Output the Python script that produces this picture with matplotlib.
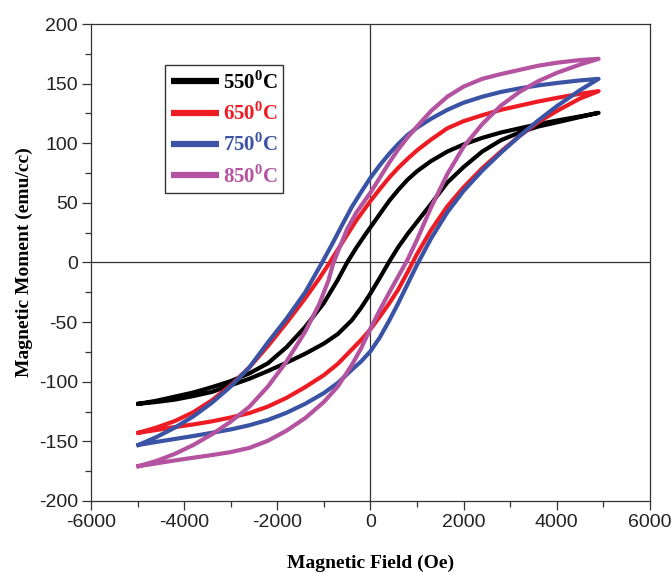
import matplotlib
matplotlib.use("Agg")
import matplotlib.pyplot as plt
from matplotlib.ticker import MultipleLocator

plt.rcParams['font.family'] = ['Liberation Sans', 'DejaVu Sans']
plt.rcParams['axes.unicode_minus'] = False
plt.rcParams['mathtext.fontset'] = 'custom'
plt.rcParams['mathtext.rm'] = 'Liberation Serif:bold'
plt.rcParams['mathtext.bf'] = 'Liberation Serif:bold'

# valores (campo en Oe, momento en emu/cc)
# _sube: rama con campo creciente, _baja: rama con campo decreciente
h_550_sube = [-4980, -4600, -4200, -3800, -3400, -3000, -2600, -2200, -1800, -1400, -1000, -700, -400, -200, 0,
              200, 400, 600, 800, 1000, 1300, 1650, 2000, 2400, 2800, 3200, 3600, 4000, 4500, 4900]
m_550_sube = [-118.5, -117, -115, -112, -108.5, -103, -97.5, -91, -84, -76.5, -68, -60, -48.5, -38, -26,
              -13, 0.5, 13, 24, 34, 49, 67, 80, 93, 102.5, 109, 114, 117.5, 122, 125.5]
h_550_baja = [-4980, -4600, -4200, -3800, -3400, -3000, -2600, -2200, -1800, -1400, -1000, -700, -500, -300, -100, 0,
              200, 400, 600, 800, 1000, 1300, 1650, 2000, 2400, 2800, 3200, 3600, 4000, 4500, 4900]
m_550_baja = [-118.5, -116, -112.5, -109, -104.5, -99.5, -93, -84.5, -71, -54, -34, -14.5, 0, 12.5, 24, 29.5,
              40.5, 51.5, 61, 69.5, 76.5, 85, 93, 99, 104.5, 109, 112.5, 116, 119, 122.5, 125.5]

h_650_sube = [-4980, -4600, -4200, -3800, -3400, -3000, -2600, -2200, -1800, -1400, -1000, -700, -400, -200, 0,
              200, 400, 600, 800, 1000, 1300, 1650, 2000, 2400, 2800, 3200, 3600, 4000, 4500, 4900]
m_650_sube = [-142.8, -140.5, -138, -135.8, -133.2, -130, -126.3, -120.8, -113.5, -104.5, -94.5, -85, -73, -65, -56,
              -45.5, -34.5, -22.5, -8, 7, 27, 47, 63, 79, 93, 106, 117.5, 127, 137.5, 143.7]
h_650_baja = [-4980, -4600, -4200, -3800, -3400, -3000, -2600, -2200, -1800, -1400, -1100, -873, -600, -300, 0,
              200, 400, 600, 800, 1000, 1300, 1650, 2000, 2400, 2800, 3200, 3600, 4000, 4500, 4900]
m_650_baja = [-142.8, -138.5, -133, -125.5, -115.5, -103, -88, -70, -50.5, -30, -13.5, 0, 17, 35.5, 51.5,
              61.5, 71, 79.5, 87, 94, 103, 112.5, 118.5, 123.5, 128, 131.5, 135, 138, 141.5, 143.7]

h_750_sube = [-4980, -4600, -4200, -3800, -3400, -3000, -2600, -2200, -1800, -1400, -1000, -700, -400, -200, 0,
              200, 400, 600, 800, 1000, 1300, 1650, 2000, 2400, 2800, 3200, 3600, 4000, 4500, 4900]
m_750_sube = [-153, -150.5, -148, -145.5, -142.8, -140, -136.5, -132, -126, -118.5, -109.5, -101, -90, -83, -74.5,
              -63, -49, -34, -18, -2, 20, 42, 60, 77, 92, 106, 119, 131, 144.5, 154]
h_750_baja = [-4980, -4600, -4200, -3800, -3400, -3000, -2600, -2200, -1800, -1400, -1037, -800, -600, -400, -200, 0,
              200, 400, 600, 800, 1000, 1300, 1650, 2000, 2400, 2800, 3200, 3600, 4000, 4500, 4900]
m_750_baja = [-153, -146.5, -138.5, -129, -117.5, -104, -88, -67, -47, -25, 0, 17, 32, 46.5, 59, 71,
              81.5, 91, 99.5, 107, 113, 120.5, 128, 134, 139, 143, 146, 148.5, 150.5, 152.7, 154]

h_850_sube = [-4980, -4600, -4200, -3800, -3400, -3000, -2600, -2200, -1800, -1400, -1000, -700, -400, -200, 0,
              200, 400, 600, 800, 1000, 1300, 1650, 2000, 2400, 2800, 3200, 3600, 4000, 4500, 4900]
m_850_sube = [-170.8, -168.5, -166, -163.7, -161.5, -159, -155.5, -149.5, -141, -130.5, -117, -104, -86, -72, -55.5,
              -40, -25.5, -11.5, 2.5, 19, 46, 74, 97, 116, 131.5, 143, 152, 159, 166, 170.8]
h_850_baja = [-4980, -4600, -4200, -3800, -3400, -3000, -2600, -2200, -1800, -1400, -1100, -900, -800, -700, -500, -300, -100, 0,
              200, 400, 600, 800, 1000, 1300, 1650, 2000, 2400, 2800, 3200, 3600, 4000, 4500, 4900]
m_850_baja = [-170.8, -166.5, -160.5, -153, -144, -133.5, -121, -104, -83, -58, -35, -15, -1, 9, 28, 42, 53, 58.5,
              71, 83.5, 95, 105, 114, 127, 139, 147.5, 154, 158, 161.5, 165, 167.5, 169.8, 170.8]

etiquetas = ['550$^{\\mathbf{0}}$C', '650$^{\\mathbf{0}}$C', '750$^{\\mathbf{0}}$C', '850$^{\\mathbf{0}}$C']
colores = ['#000000', '#ed1c24', '#3a53a4', '#b4539f']

bucles = [
    (h_550_sube, m_550_sube, h_550_baja, m_550_baja),
    (h_650_sube, m_650_sube, h_650_baja, m_650_baja),
    (h_750_sube, m_750_sube, h_750_baja, m_750_baja),
    (h_850_sube, m_850_sube, h_850_baja, m_850_baja),
]

fig = plt.figure(figsize=(6.72, 5.73), dpi=100)
ax = fig.add_axes([0.1354, 0.1257, 0.8316, 0.8324])

ax.axhline(0, color='#333333', lw=0.9, zorder=1)
ax.axvline(0, color='#333333', lw=0.9, zorder=1)

for (hs, ms, hb, mb), lab, col in zip(bucles, etiquetas, colores):
    # lazo cerrado: rama que sube y luego la que baja
    xs = list(hs) + list(reversed(hb))
    ys = list(ms) + list(reversed(mb))
    ax.plot(xs, ys, color=col, lw=3, label=lab, solid_joinstyle='round', zorder=2)

ax.set_xlim(-6000, 6000)
ax.set_ylim(-200, 200)
ax.xaxis.set_major_locator(MultipleLocator(2000))
ax.xaxis.set_minor_locator(MultipleLocator(1000))
ax.yaxis.set_major_locator(MultipleLocator(50))
ax.yaxis.set_minor_locator(MultipleLocator(25))
ax.tick_params(which='major', direction='out', length=6.5, width=0.9, color='#333333',
               labelsize=14, labelcolor='#222222', pad=3)
ax.tick_params(which='minor', direction='out', length=4, width=0.9, color='#333333')
for s in ax.spines.values():
    s.set_color('#333333')
    s.set_linewidth(0.9)

ax.set_xlabel('Magnetic Field (Oe)', family='Liberation Serif', fontweight='bold', fontsize=14, labelpad=17)
ax.set_ylabel('Magnetic Moment (emu/cc)', family='Liberation Serif', fontweight='bold', fontsize=14, labelpad=4)

leg = ax.legend(loc='upper left', bbox_to_anchor=(0.132, 0.914), borderaxespad=0,
                prop={'family': 'Liberation Serif', 'weight': 'bold', 'size': 15},
                handlelength=2.3, handletextpad=0.2, labelspacing=0.42, borderpad=0.28,
                fancybox=False, framealpha=1, edgecolor='#333333')
leg.get_frame().set_linewidth(1.0)
for t, col in zip(leg.get_texts(), colores):
    t.set_color(col)
for l in leg.get_lines():
    l.set_linewidth(4.5)
    l.set_solid_capstyle('butt')

fig.savefig('out.png', dpi=100)
